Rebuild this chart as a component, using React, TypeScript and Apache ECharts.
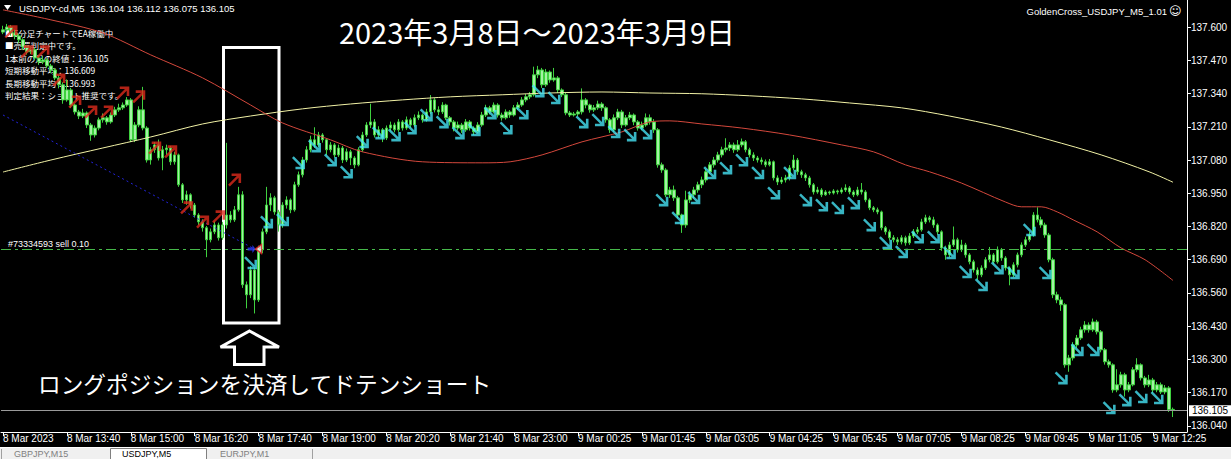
import React, { useEffect, useRef } from "react";
import * as echarts from "echarts";

// ---- USDJPY-cd M5 candles (open of each bar = previous close) ----
const firstOpen = 137.58;
const closes = [
  137.589, 137.6, 137.577, 137.565, 137.55, 137.522, 137.503, 137.511, 137.479, 137.464,
  137.471, 137.448, 137.432, 137.401, 137.374, 137.315, 137.354, 137.295, 137.268, 137.252,
  137.264, 137.217, 137.178, 137.205, 137.237, 137.245, 137.229, 137.256, 137.276, 137.284,
  137.295, 137.315, 137.159, 137.217, 137.276, 137.205, 137.08, 137.12, 137.139, 137.088,
  137.12, 137.127, 137.073, 137.1, 136.983, 136.924, 136.944, 136.904, 136.865, 136.838,
  136.815, 136.768, 136.799, 136.826, 136.776, 136.826, 136.865, 136.846, 136.885, 136.944,
  136.592, 136.553, 136.65, 136.533, 136.729, 136.799, 136.904, 136.932, 136.877, 136.826,
  136.904, 136.924, 136.885, 136.983, 137.022, 137.08, 137.12, 137.159, 137.139, 137.178,
  137.159, 137.12, 137.139, 137.1, 137.127, 137.08, 137.112, 137.088, 137.061, 137.12,
  137.178, 137.217, 137.229, 137.178, 137.198, 137.166, 137.205, 137.217, 137.198, 137.229,
  137.205, 137.237, 137.217, 137.245, 137.256, 137.237, 137.268, 137.315, 137.276, 137.268,
  137.295, 137.245, 137.229, 137.205, 137.217, 137.198, 137.229, 137.205, 137.19, 137.217,
  137.256, 137.284, 137.268, 137.295, 137.256, 137.245, 137.268, 137.256, 137.284, 137.295,
  137.315, 137.327, 137.335, 137.413, 137.432, 137.374, 137.424, 137.393, 137.401, 137.354,
  137.335, 137.264, 137.256, 137.26, 137.268, 137.315, 137.295, 137.276, 137.284, 137.299,
  137.284, 137.237, 137.198, 137.245, 137.268, 137.217, 137.245, 137.256, 137.229, 137.205,
  137.217, 137.245, 137.229, 137.198, 137.061, 137.041, 136.944, 136.963, 136.932, 136.865,
  136.826, 136.924, 136.944, 136.963, 136.983, 137.002, 137.034, 137.061, 137.08, 137.1,
  137.12, 137.127, 137.139, 137.12, 137.139, 137.151, 137.12, 137.1, 137.088, 137.08,
  137.073, 137.061, 137.073, 137.01, 136.994, 137.002, 137.01, 137.049, 137.08, 137.034,
  137.022, 137.01, 136.983, 136.955, 136.963, 136.944, 136.955, 136.951, 136.959, 136.955,
  136.963, 136.971, 136.955, 136.944, 136.963, 136.955, 136.924, 136.893, 136.885, 136.877,
  136.815, 136.799, 136.776, 136.768, 136.76, 136.776, 136.756, 136.783, 136.799, 136.807,
  136.838, 136.854, 136.846, 136.826, 136.799, 136.736, 136.709, 136.748, 136.768, 136.729,
  136.748, 136.709, 136.682, 136.65, 136.631, 136.658, 136.69, 136.709, 136.682, 136.729,
  136.697, 136.658, 136.631, 136.67, 136.709, 136.748, 136.768, 136.787, 136.865, 136.846,
  136.826, 136.787, 136.69, 136.553, 136.533, 136.514, 136.279, 136.306, 136.357, 136.384,
  136.416, 136.435, 136.416, 136.447, 136.408, 136.338, 136.291, 136.279, 136.181, 136.201,
  136.24, 136.181, 136.201, 136.26, 136.279, 136.228, 136.201, 136.22, 136.181, 136.201,
  136.173, 136.189, 136.104, 136.105,
];
const highs = [
  137.605, 137.612, 137.608, 137.59, 137.574, 137.556, 137.53, 137.525, 137.518, 137.49,
  137.486, 137.478, 137.456, 137.44, 137.412, 137.384, 137.395, 137.362, 137.3, 137.276,
  137.28, 137.27, 137.225, 137.215, 137.246, 137.262, 137.252, 137.266, 137.288, 137.3,
  137.305, 137.326, 137.322, 137.228, 137.29, 137.366, 137.212, 137.13, 137.15, 137.16,
  137.135, 137.14, 137.135, 137.112, 137.105, 136.99, 136.96, 136.95, 136.912, 136.872,
  136.848, 136.822, 136.812, 136.84, 136.835, 136.838, 137.147, 136.88, 136.9, 136.975,
  136.958, 136.605, 136.665, 136.66, 136.745, 136.812, 136.975, 136.95, 136.94, 136.885,
  136.915, 136.938, 136.93, 136.995, 137.035, 137.092, 137.134, 137.175, 137.208, 137.19,
  137.185, 137.165, 137.15, 137.146, 137.14, 137.135, 137.125, 137.12, 137.095, 137.13,
  137.19, 137.228, 137.3, 137.24, 137.212, 137.205, 137.215, 137.23, 137.226, 137.24,
  137.236, 137.25, 137.245, 137.258, 137.27, 137.262, 137.28, 137.334, 137.322, 137.29,
  137.306, 137.3, 137.252, 137.236, 137.23, 137.225, 137.24, 137.236, 137.212, 137.228,
  137.268, 137.296, 137.292, 137.305, 137.302, 137.265, 137.278, 137.275, 137.295, 137.306,
  137.326, 137.338, 137.346, 137.445, 137.448, 137.44, 137.436, 137.43, 137.44, 137.408,
  137.36, 137.342, 137.272, 137.268, 137.275, 137.36, 137.322, 137.3, 137.295, 137.312,
  137.306, 137.29, 137.244, 137.258, 137.28, 137.276, 137.256, 137.268, 137.262, 137.236,
  137.23, 137.262, 137.258, 137.24, 137.205, 137.07, 137.048, 136.975, 136.98, 136.94,
  136.87, 136.96, 136.958, 136.975, 136.995, 137.015, 137.045, 137.072, 137.092, 137.112,
  137.132, 137.165, 137.15, 137.148, 137.158, 137.164, 137.158, 137.128, 137.11, 137.096,
  137.09, 137.082, 137.084, 137.078, 137.02, 137.014, 137.022, 137.06, 137.1, 137.088,
  137.042, 137.03, 137.018, 136.99, 136.975, 136.97, 136.962, 136.96, 136.966, 136.964,
  136.972, 136.985, 136.978, 136.962, 136.975, 136.99, 136.962, 136.93, 136.9, 136.894,
  136.882, 136.822, 136.808, 136.786, 136.778, 136.786, 136.784, 136.794, 136.81, 136.818,
  136.85, 136.866, 136.862, 136.858, 136.832, 136.805, 136.745, 136.76, 136.82, 136.776,
  136.768, 136.756, 136.716, 136.69, 136.66, 136.668, 136.7, 136.74, 136.716, 136.742,
  136.736, 136.704, 136.664, 136.68, 136.718, 136.758, 136.78, 136.8, 136.876, 136.895,
  136.858, 136.835, 136.795, 136.698, 136.565, 136.545, 136.52, 136.318, 136.368, 136.396,
  136.428, 136.45, 136.445, 136.46, 136.455, 136.415, 136.345, 136.3, 136.285, 136.262,
  136.252, 136.248, 136.212, 136.27, 136.305, 136.285, 136.236, 136.24, 136.228, 136.212,
  136.21, 136.2, 136.196, 136.112,
];
const lows = [
  137.572, 137.582, 137.566, 137.552, 137.538, 137.51, 137.492, 137.494, 137.47, 137.452,
  137.455, 137.44, 137.42, 137.392, 137.36, 137.3, 137.308, 137.284, 137.258, 137.24,
  137.244, 137.205, 137.155, 137.168, 137.196, 137.226, 137.218, 137.222, 137.248, 137.268,
  137.276, 137.288, 137.15, 137.15, 137.208, 137.196, 137.07, 137.062, 137.108, 137.078,
  137.04, 137.1, 137.06, 137.062, 136.975, 136.912, 136.905, 136.89, 136.855, 136.826,
  136.8, 136.7, 136.758, 136.79, 136.765, 136.768, 136.812, 136.835, 136.838, 136.878,
  136.58, 136.5, 136.54, 136.48, 136.525, 136.715, 136.79, 136.88, 136.866, 136.8,
  136.815, 136.89, 136.872, 136.878, 136.975, 137.012, 137.07, 137.11, 137.128, 137.13,
  137.148, 137.1, 137.11, 137.09, 137.092, 137.068, 137.072, 137.06, 137.048, 137.055,
  137.112, 137.17, 137.205, 137.168, 137.165, 137.15, 137.158, 137.195, 137.188, 137.19,
  137.195, 137.198, 137.206, 137.21, 137.236, 137.226, 137.23, 137.26, 137.266, 137.255,
  137.26, 137.236, 137.215, 137.192, 137.196, 137.186, 137.19, 137.195, 137.178, 137.184,
  137.21, 137.248, 137.258, 137.262, 137.246, 137.234, 137.238, 137.245, 137.25, 137.275,
  137.288, 137.306, 137.318, 137.328, 137.4, 137.362, 137.366, 137.382, 137.386, 137.342,
  137.326, 137.255, 137.248, 137.25, 137.252, 137.258, 137.282, 137.265, 137.268, 137.276,
  137.272, 137.226, 137.186, 137.19, 137.236, 137.205, 137.21, 137.236, 137.216, 137.195,
  137.196, 137.21, 137.218, 137.186, 137.05, 137.03, 136.935, 136.932, 136.92, 136.852,
  136.795, 136.815, 136.912, 136.93, 136.952, 136.97, 136.992, 137.025, 137.05, 137.07,
  137.09, 137.11, 137.115, 137.108, 137.112, 137.13, 137.11, 137.09, 137.076, 137.07,
  137.062, 137.052, 137.055, 137.0, 136.982, 136.986, 136.992, 137.0, 137.04, 137.022,
  137.01, 136.998, 136.972, 136.945, 136.948, 136.935, 136.94, 136.944, 136.945, 136.946,
  136.948, 136.955, 136.946, 136.935, 136.938, 136.945, 136.915, 136.884, 136.876, 136.868,
  136.805, 136.788, 136.766, 136.758, 136.748, 136.75, 136.745, 136.748, 136.775, 136.79,
  136.8, 136.83, 136.836, 136.815, 136.788, 136.725, 136.69, 136.7, 136.74, 136.718,
  136.72, 136.698, 136.672, 136.64, 136.612, 136.622, 136.65, 136.68, 136.672, 136.675,
  136.686, 136.648, 136.59, 136.622, 136.66, 136.7, 136.74, 136.76, 136.78, 136.836,
  136.815, 136.776, 136.68, 136.54, 136.52, 136.49, 136.268, 136.252, 136.296, 136.345,
  136.376, 136.405, 136.405, 136.408, 136.398, 136.328, 136.28, 136.268, 136.17, 136.172,
  136.19, 136.155, 136.172, 136.195, 136.25, 136.218, 136.19, 136.192, 136.17, 136.172,
  136.165, 136.164, 136.095, 136.075,
];

// Time axis: one label every 16 bars (80 minutes), plus empty right-shift slots
const xTickLabels = [
  "8 Mar 2023", "8 Mar 13:40", "8 Mar 15:00", "8 Mar 16:20", "8 Mar 17:40",
  "8 Mar 19:00", "8 Mar 20:20", "8 Mar 21:40", "8 Mar 23:00", "9 Mar 00:25",
  "9 Mar 01:45", "9 Mar 03:05", "9 Mar 04:25", "9 Mar 05:45", "9 Mar 07:05",
  "9 Mar 08:25", "9 Mar 09:45", "9 Mar 11:05", "9 Mar 12:25",
];
const BARS_PER_LABEL = 16;
const SLOT_COUNT = 297;

// Price scale
const yTickValues = [
  136.04, 136.17, 136.3, 136.43, 136.56, 136.69, 136.82, 136.95, 137.08, 137.21, 137.34, 137.47, 137.6,
];
const Y_MIN = 136.0165;
const Y_MAX = 137.7056;

// Moving averages [bar, price]
const shortMa = [
  [0, 137.667], [12, 137.628], [25, 137.577], [37, 137.491], [50, 137.401], [62, 137.295],
  [70, 137.225], [82, 137.159], [90, 137.112], [105, 137.073], [120, 137.069], [127, 137.073],
  [135, 137.1], [145, 137.151], [155, 137.19], [162, 137.229], [167, 137.233], [175, 137.221],
  [185, 137.205], [197, 137.178], [210, 137.139], [218, 137.112], [226, 137.061], [232, 137.034],
  [240, 136.99], [251, 136.916], [255, 136.897], [260, 136.897], [264, 136.877], [268, 136.846],
  [274, 136.799], [280, 136.736], [286, 136.69], [293, 136.609],
];
const longMa = [
  [0, 137.033], [12, 137.08], [25, 137.127], [37, 137.17], [50, 137.221], [62, 137.252],
  [75, 137.28], [87, 137.299], [100, 137.315], [112, 137.327], [125, 137.335], [137, 137.342],
  [150, 137.346], [162, 137.342], [175, 137.339], [187, 137.331], [200, 137.319], [212, 137.303],
  [225, 137.284], [237, 137.252], [250, 137.209], [262, 137.159], [275, 137.1], [287, 137.034],
  [293, 136.993],
];

// EA signal arrows
const buySignalBars = [2, 6, 10, 14, 18, 22, 26, 30, 34, 38, 42, 46, 50, 54, 58];
const buySignalPrices = [
  137.581, 137.503, 137.503, 137.393, 137.307, 137.268, 137.268, 137.342, 137.327, 137.127,
  137.112, 136.893, 136.838, 136.858, 137.002,
];
const sellSignalBars = [
  62, 66, 70, 74, 78, 82, 86, 90, 94, 98, 102, 106, 110, 114, 118, 122, 126, 130, 134, 138,
  145, 149, 153, 157, 161, 165, 169, 173, 177, 181, 185, 189, 193, 197, 201, 205, 209, 213,
  217, 221, 225, 229, 233, 237, 241, 245, 249, 253, 257, 261, 265, 269, 273, 277, 281, 285, 289,
];
const sellSignalPrices = [
  136.678, 136.838, 136.846, 137.069, 137.135, 137.08, 137.033, 137.151, 137.186, 137.178,
  137.205, 137.256, 137.229, 137.186, 137.198, 137.264, 137.205, 137.264, 137.35, 137.323,
  137.229, 137.237, 137.19, 137.178, 137.186, 136.924, 136.854, 136.932, 137.03, 137.049,
  137.08, 137.03, 136.951, 137.03, 136.924, 136.904, 136.893, 136.912, 136.826, 136.756,
  136.721, 136.779, 136.779, 136.717, 136.643, 136.592, 136.658, 136.639, 136.807, 136.639,
  136.228, 136.338, 136.338, 136.111, 136.142, 136.154, 136.15,
];

// Closed buy trade and the open sell order
const tradeLine = [[0, 137.256], [63, 136.732]];
const tradeCloseBar = 63;
const sellOrderPrice = 136.732;
const sellOrderLabel = "#73334593 sell 0.10";
const lastPrice = 136.105;

const headerText = "USDJPY-cd,M5  136.104 136.112 136.075 136.105";
const expertName = "GoldenCross_USDJPY_M5_1.01";
const eaLines = [
  "■5分足チャートでEA稼働中",
  "■売買判定中です。",
  "1本前の足の終値：136.105",
  "短期移動平均：136.609",
  "長期移動平均：136.993",
  "判定結果：ショート推奨です。",
];
const titleText = "2023年3月8日～2023年3月9日";
const noteText = "ロングポジションを決済してドテンショート";
const chartTabs = ["GBPJPY,M15", "USDJPY,M5", "EURJPY,M1"];

const SELL_ARROW = "path://M0,2 L2,0 L12,10 L12,4 L15,4 L15,15 L4,15 L4,12 L10,12 Z";
const BUY_ARROW = "path://M0,13 L2,15 L12,5 L12,11 L15,11 L15,0 L4,0 L4,3 L10,3 Z";

const UI_FONT = '"Liberation Sans", "DejaVu Sans", sans-serif';
const JP_FONT = '"Noto Sans CJK JP", "Noto Sans", sans-serif';

function txt(
  x: number,
  y: number,
  text: string,
  size: number,
  family: string,
  fill = "#fff",
  align = "left",
  lineHeight?: number
) {
  return {
    type: "text",
    x,
    y,
    silent: true,
    style: {
      text,
      fill,
      fontSize: size,
      fontFamily: family,
      lineHeight: lineHeight ?? Math.round(size * 1.2),
      align,
      textAlign: align,
      verticalAlign: "middle",
      textVerticalAlign: "middle",
    },
  };
}

export default function App() {
  const ref = useRef<HTMLDivElement>(null);

  useEffect(() => {
    if (!ref.current) return;
    const chart = echarts.init(ref.current, undefined, { renderer: "svg" });

    const categories = Array.from({ length: SLOT_COUNT }, (_, i) => String(i));
    const candles = closes.map((c, i) => [i === 0 ? firstOpen : closes[i - 1], c, lows[i], highs[i]]);
    const isLabelSlot = (i: number) => i % BARS_PER_LABEL === 0 && i / BARS_PER_LABEL < xTickLabels.length;

    const graphic: any[] = [
      { type: "polygon", shape: { points: [[4, 5], [11, 5], [7.5, 10]] }, style: { fill: "#fff" }, silent: true },
      txt(19, 8, headerText, 9.5, UI_FONT),
      txt(1167, 11, expertName, 9.5, UI_FONT, "#fff", "right"),
      txt(1169, 11, "☺", 12, '"DejaVu Sans", sans-serif'),
      ...eaLines.map((t, k) => txt(5, 33 + k * 12.4, t, 8.5, JP_FONT, "#fff", "left", 10)),
      txt(537, 31, titleText, 29, JP_FONT, "#fff", "center"),
      {
        type: "rect",
        shape: { x: 223.5, y: 47.5, width: 55.5, height: 275.5 },
        style: { fill: "none", stroke: "#fff", lineWidth: 3 },
        silent: true,
      },
      {
        type: "polygon",
        shape: {
          points: [[249.5, 331], [279, 347], [264, 347], [264, 364.5], [234.5, 364.5], [234.5, 347], [220.5, 347]],
        },
        style: { fill: "#000", stroke: "#fff", lineWidth: 3 },
        silent: true,
      },
      txt(38, 383, noteText, 22.7, JP_FONT),
      // chart tabs strip
      { type: "rect", shape: { x: 0, y: 448, width: 1231, height: 11 }, style: { fill: "#f0f0f0" }, silent: true },
      { type: "line", shape: { x1: 0, y1: 447.5, x2: 1231, y2: 447.5 }, style: { stroke: "#ffffff", lineWidth: 1 }, silent: true },
      { type: "rect", shape: { x: 110.5, y: 448.5, width: 96, height: 12 }, style: { fill: "#ffffff", stroke: "#808080", lineWidth: 1 }, silent: true },
      { type: "line", shape: { x1: 1.5, y1: 449, x2: 1.5, y2: 459 }, style: { stroke: "#a0a0a0", lineWidth: 1 }, silent: true },
      { type: "line", shape: { x1: 312.5, y1: 449, x2: 312.5, y2: 459 }, style: { stroke: "#a0a0a0", lineWidth: 1 }, silent: true },
      txt(14, 454, chartTabs[0], 9, UI_FONT, "#808080", "left", 9),
      txt(122, 454, chartTabs[1], 9, UI_FONT, "#000", "left", 9),
      txt(220, 454, chartTabs[2], 9, UI_FONT, "#808080", "left", 9),
    ];

    chart.setOption({
      animation: false,
      backgroundColor: "#000",
      grid: { left: -1, right: 44, top: 0, bottom: 27, containLabel: false },
      xAxis: {
        type: "category",
        data: categories,
        boundaryGap: true,
        axisLine: { show: true, lineStyle: { color: "#ffffff", width: 1 } },
        axisTick: {
          show: true,
          alignWithLabel: true,
          interval: (i: number) => isLabelSlot(i),
          length: 4,
          lineStyle: { color: "#ffffff" },
        },
        axisLabel: {
          interval: (i: number) => isLabelSlot(i),
          formatter: (v: string) => xTickLabels[Number(v) / BARS_PER_LABEL] ?? "",
          color: "#ffffff",
          fontSize: 10,
          fontFamily: UI_FONT,
          align: "left",
          margin: 1,
        },
        splitLine: { show: false },
      },
      yAxis: {
        type: "value",
        position: "right",
        min: Y_MIN,
        max: Y_MAX,
        scale: true,
        axisLine: { show: true, lineStyle: { color: "#ffffff", width: 1 } },
        axisTick: { show: true, customValues: yTickValues, length: 4, lineStyle: { color: "#ffffff" } },
        axisLabel: {
          customValues: yTickValues,
          formatter: (v: number) => v.toFixed(3),
          color: "#ffffff",
          fontSize: 10,
          fontFamily: UI_FONT,
          margin: 4,
        },
        splitLine: { show: false },
      },
      series: [
        {
          name: "USDJPY-cd,M5",
          type: "candlestick",
          data: candles,
          barWidth: 3,
          itemStyle: {
            color: "#a4f2a4",
            color0: "#a4f2a4",
            borderColor: "#3fd13f",
            borderColor0: "#3fd13f",
            borderWidth: 1,
          },
          markLine: {
            silent: true,
            symbol: "none",
            animation: false,
            data: [
              {
                yAxis: sellOrderPrice,
                lineStyle: { color: "#46b94a", width: 1, type: [10, 4, 3, 4] },
                label: {
                  show: true,
                  position: "insideStartTop",
                  formatter: sellOrderLabel,
                  color: "#ffffff",
                  fontSize: 9,
                  fontFamily: UI_FONT,
                  distance: [7, 1],
                },
              },
              {
                yAxis: lastPrice,
                lineStyle: { color: "#9a9a9a", width: 1, type: "solid" },
                label: {
                  show: true,
                  position: "end",
                  formatter: lastPrice.toFixed(3),
                  color: "#000000",
                  backgroundColor: "#ffffff",
                  padding: [1, 3, 0, 3],
                  fontSize: 10,
                  fontFamily: UI_FONT,
                  distance: 2,
                },
              },
            ],
          },
          z: 2,
        },
        {
          name: "Long MA",
          type: "line",
          data: longMa,
          smooth: 0.3,
          showSymbol: false,
          lineStyle: { color: "#f2f2a6", width: 1 },
          z: 3,
        },
        {
          name: "Short MA",
          type: "line",
          data: shortMa,
          smooth: 0.3,
          showSymbol: false,
          lineStyle: { color: "#d4483c", width: 1 },
          z: 3,
        },
        {
          name: "Buy trade",
          type: "line",
          data: tradeLine,
          showSymbol: false,
          lineStyle: { color: "#2323d8", width: 1, type: [2, 3] },
          z: 3,
        },
        {
          name: "Buy signal",
          type: "scatter",
          data: buySignalBars.map((b, k) => [b, buySignalPrices[k]]),
          symbol: BUY_ARROW,
          symbolSize: 13,
          itemStyle: { color: "#dd2a1c" },
          z: 4,
        },
        {
          name: "Sell signal",
          type: "scatter",
          data: sellSignalBars.map((b, k) => [b, sellSignalPrices[k]]),
          symbol: SELL_ARROW,
          symbolSize: 13,
          itemStyle: { color: "#46e2f4" },
          z: 4,
        },
        {
          name: "Trade close",
          type: "scatter",
          data: [[tradeCloseBar, sellOrderPrice]],
          symbol: "path://M0,3 L6,3 L6,0 L10,5 L6,10 L6,7 L0,7 Z",
          symbolSize: [8, 8],
          symbolOffset: [-3, 0],
          itemStyle: { color: "#2a3cff" },
          z: 5,
        },
        {
          name: "Sell open",
          type: "scatter",
          data: [[tradeCloseBar, sellOrderPrice]],
          symbol: "path://M10,0 L0,5 L10,10 Z",
          symbolSize: [6, 9],
          symbolOffset: [4, 0],
          itemStyle: { color: "#ffffff", borderColor: "#e02020", borderWidth: 1.5 },
          z: 5,
        },
      ],
      graphic,
    });

    return () => chart.dispose();
  }, []);

  return (
    <div
      ref={ref}
      style={{ position: "fixed", left: 0, top: 0, width: 1231, height: 459, background: "#000" }}
    />
  );
}
